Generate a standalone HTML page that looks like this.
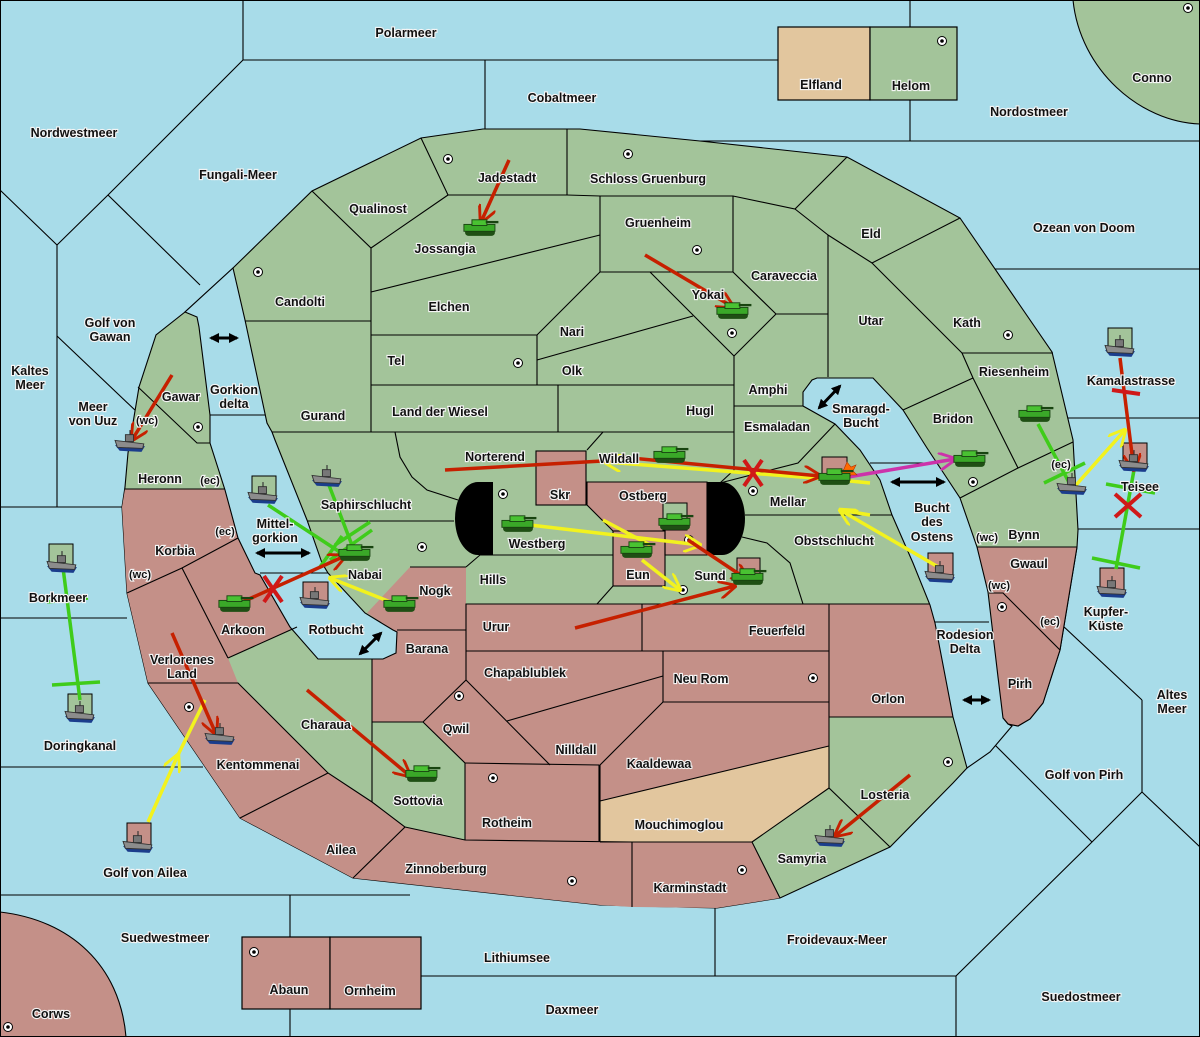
<!DOCTYPE html>
<html><head><meta charset="utf-8"><style>
html,body{margin:0;padding:0;background:#a8dce9}
svg{display:block}
text{font-family:"Liberation Sans",sans-serif;font-weight:bold;font-size:12.5px;fill:#111;stroke:#f4f4f4;stroke-width:2.2px;paint-order:stroke;text-anchor:middle}
.l{fill:none;stroke:#000;stroke-width:1.1}
</style></head><body>
<svg width="1200" height="1037" viewBox="0 0 1200 1037" xmlns="http://www.w3.org/2000/svg">
<defs>
<marker id="mr" viewBox="0 0 10 10" refX="9" refY="5" markerWidth="18" markerHeight="18" markerUnits="userSpaceOnUse" orient="auto"><path d="M0,0 L10,5 L0,10" fill="none" stroke="#c62000" stroke-width="1.6"/></marker>
<marker id="my" viewBox="0 0 10 10" refX="9" refY="5" markerWidth="18" markerHeight="18" markerUnits="userSpaceOnUse" orient="auto"><path d="M0,0 L10,5 L0,10" fill="none" stroke="#f2f21e" stroke-width="1.6"/></marker>
<marker id="mm" viewBox="0 0 10 10" refX="9" refY="5" markerWidth="18" markerHeight="18" markerUnits="userSpaceOnUse" orient="auto"><path d="M0,0 L10,5 L0,10" fill="none" stroke="#cc33aa" stroke-width="1.6"/></marker>
<marker id="mb" viewBox="0 0 10 10" refX="8" refY="5" markerWidth="10" markerHeight="10" markerUnits="userSpaceOnUse" orient="auto-start-reverse"><path d="M0,0 L10,5 L0,10 Z" fill="#000"/></marker>
<g id="tank0"><rect x="-13" y="0" width="26" height="6" rx="3" fill="#1f4f14"/><rect x="-14" y="-4" width="27" height="6" fill="#3aa828" stroke="#184410" stroke-width="0.8"/><rect x="-7" y="-8" width="13" height="5" fill="#49c232" stroke="#184410" stroke-width="0.8"/><rect x="5" y="-7" width="11" height="2" fill="#184410"/></g>
<g id="tank"><use href="#tank0" transform="scale(1.15)"/></g>
<g id="ship0"><path d="M-13,0 L13,1 L10,6 L-9,5 Z" fill="#1b3d8c"/><path d="M-13,-4 L12,-1 L11,3 L-11,2Z" fill="#8c8c8c" stroke="#333" stroke-width="0.8"/><rect x="-4" y="-9" width="7" height="6" fill="#777" stroke="#333" stroke-width="0.8"/><line x1="0" y1="-13" x2="0" y2="-9" stroke="#333"/></g>
<g id="ship"><use href="#ship0" transform="scale(1.15)"/></g>
<g id="sc"><circle r="4.5" fill="#fff" stroke="#000" stroke-width="1"/><circle r="1.8" fill="#000"/></g>
</defs>

<g class="l">
<polyline points="243,0 243,60 778,60"/><polyline points="485,60 485,129"/>
<polyline points="910,0 910,27"/><polyline points="910,100 910,141"/><polyline points="700,141 1200,141"/>
<polyline points="995,269 1200,269"/><polyline points="1068,418 1200,418"/><polyline points="1078,529 1200,529"/>
<polyline points="1142,700 1142,792"/><polyline points="1062,625 1142,700"/><polyline points="1142,792 1092,842 956,976 956,1037"/><polyline points="1142,792 1200,847"/><polyline points="993,743 1092,842"/>
<polyline points="400,976 956,976"/><polyline points="715,906 715,976"/><polyline points="290,895 290,1037"/><polyline points="0,895 410,895"/>
<polyline points="0,190 57,245 108,195 243,60"/><polyline points="108,195 200,285"/><polyline points="57,245 57,507"/><polyline points="57,336 137,412"/>
<polyline points="0,507 122,507"/><polyline points="0,618 127,618"/><polyline points="0,767 203,767"/>
</g>
<path d="M1073,0 C1080,70 1140,122 1200,124 L1200,0 Z" fill="#a3c49a" stroke="#000" stroke-width="1.1"/>
<path d="M0,912 C70,920 120,965 126,1037 L0,1037 Z" fill="#c49088" stroke="#000" stroke-width="1.1"/>
<rect x="778" y="27" width="92" height="73" fill="#e2c69e" stroke="#000" stroke-width="1.2"/>
<rect x="870" y="27" width="87" height="73" fill="#a3c49a" stroke="#000" stroke-width="1.2"/>
<rect x="242" y="937" width="88" height="72" fill="#c49088" stroke="#000" stroke-width="1.2"/>
<rect x="330" y="937" width="91" height="72" fill="#c49088" stroke="#000" stroke-width="1.2"/>

<polygon points="185,312 233,268 312,191 421,138 483,129 580,129 700,141 847,157 960,218 1052,352 1073,440 1078,530 1077,547 1060,650 1043,703 1030,719 1018,726 1008,724 1003,718 967,768 953,783 890,847 780,898 717,908 600,905 353,878 240,818 148,683 127,593 122,507 125,487 128,453 139,387 156,335" fill="#a3c49a" stroke="#000" stroke-width="1.1"/>
<g fill="#c49088" stroke="none">
<polygon points="125,489 225,489 238,538 255,573 260,575 290,627 297,627 228,658 238,683 328,773 240,818 148,683 127,593 122,507"/>
<polygon points="240,818 328,773 372,802 405,827 353,878"/>
<polygon points="353,878 405,827 465,840 599,841 632,842 632,907 600,905"/>
<polygon points="632,842 752,842 780,898 717,908 632,907"/>
<polygon points="410,567 466,567 466,604 930,604 935,623 953,717 829,717 829,746 600,801 599,841 465,840 465,763 423,722 372,722 372,659 383,659 396,653 397,632 393,630 367,613"/>
<polygon points="977,547 1077,547 1060,650 1043,703 1030,719 1018,726 1008,724 1003,718 998,677 989,593"/>
<polygon points="536,451 586,451 586,505 536,505"/>
<polygon points="587,482 707,482 707,555 665,555 665,531 613,531 587,505"/>
<polygon points="613,531 665,531 665,586 613,586"/>
</g>
<polyline points="1077,547 1060,650 1043,703 1030,719 1018,726 1008,724 1003,718" fill="none" stroke="#000" stroke-width="1.1"/>
<polygon points="600,801 829,746 829,788 752,842 600,842" fill="#e2c69e"/>
<rect x="536" y="451" width="50" height="54" fill="none" stroke="#000" stroke-width="1.1"/>
<polygon points="587,482 707,482 707,555 665,555 665,531 613,531 587,505" fill="none" stroke="#000" stroke-width="1.1"/>
<rect x="613" y="531" width="52" height="55" fill="none" stroke="#000" stroke-width="1.1"/>
<rect x="663" y="503" width="24" height="27" fill="#a3c49a" stroke="#000" stroke-width="1"/>
<rect x="737" y="558" width="23" height="20" fill="#c49088" stroke="#000" stroke-width="1"/>
<rect x="822" y="457" width="25" height="20" fill="#c49088" stroke="#000" stroke-width="1"/>

<polygon points="817,378 873,378 903,410 927,448 960,498 977,547 988,592 998,677 1003,718 1008,724 1012,726 990,752 967,768 953,717 935,623 930,605 913,563 892,515 880,480 860,450 835,424 803,406 803,392 812,380" fill="#a8dce9" stroke="#000" stroke-width="1.1"/>
<polygon points="185,312 197,317 199,327 210,415 210,443 225,490 238,538 255,573 260,575 290,627 318,659 383,659 396,653 397,632 393,630 365,613 328,573 322,563 307,520 275,440 272,432 267,423 245,320 233,268" fill="#a8dce9" stroke="#000" stroke-width="1.1"/>
<g class="l">
<polyline points="210,415 265,415"/><polyline points="260,573 328,573"/><polyline points="870,463 930,463"/><polyline points="935,622 989,622"/>
</g>

<g class="l">
<polyline points="421,138 448,195 567,195 600,196 733,196 795,209 847,157"/>
<polyline points="567,129 567,195"/>
<polyline points="312,191 371,248 448,195"/>
<polyline points="371,248 371,432"/>
<polyline points="371,292 600,235"/>
<polyline points="245,321 371,321"/>
<polyline points="371,335 537,335 600,272"/>
<polyline points="537,360 693,316"/>
<polyline points="537,335 537,385"/>
<polyline points="371,385 734,385"/>
<polyline points="558,385 558,432"/>
<polyline points="272,432 734,432"/>
<polyline points="395,432 400,457 412,477 427,490 458,500"/>
<polyline points="600,196 600,272 733,272"/>
<polyline points="650,272 734,356 776,314 733,272 733,196"/>
<polyline points="795,209 828,235 828,377"/><polyline points="776,314 828,314"/>
<polyline points="734,356 734,470 720,483"/><polyline points="734,406 803,406"/>
<polyline points="828,235 872,263 960,218"/>
<polyline points="872,263 962,353 1053,353"/>
<polyline points="962,353 973,378 1018,468 1073,442"/><polyline points="973,378 903,410"/>
<polyline points="960,498 1018,468"/>
<polyline points="603,432 587,450"/>
<polyline points="835,424 798,463 720,483"/>
<polyline points="745,515 892,515"/>
<polyline points="742,537 767,543 790,563 803,604"/>
<polyline points="307,521 454,521"/>
<polyline points="493,555 613,555"/><polyline points="466,567 480,555 493,555"/>
<polyline points="410,567 466,567"/>
<polyline points="597,604 613,586"/>
<polyline points="138,387 197,443 210,443"/><polyline points="125,489 225,489"/>
<polyline points="127,593 182,568 238,538"/><polyline points="182,568 228,658"/>
<polyline points="228,658 297,627"/><polyline points="148,683 238,683 328,773 372,802 405,827 353,878"/><polyline points="240,818 328,773"/>
<polyline points="372,659 372,802"/><polyline points="372,722 423,722 466,680 466,604 930,604"/>
<polyline points="423,722 465,763 465,840"/><polyline points="465,763 599,765 599,841"/><polyline points="405,827 465,840 632,842 632,907"/>
<polyline points="466,630 397,630"/><polyline points="466,651 829,651"/><polyline points="642,604 642,651"/>
<polyline points="663,651 663,702 829,702"/><polyline points="829,604 829,788"/><polyline points="829,717 953,717"/>
<polyline points="507,721 663,676"/><polyline points="466,680 550,765"/><polyline points="600,765 663,702"/>
<polyline points="600,765 600,842"/><polyline points="600,801 829,746"/><polyline points="600,842 752,842 780,898"/><polyline points="752,842 829,788 890,847"/>
<polyline points="989,593 1003,593 1060,650"/><polyline points="977,547 1077,547"/>
</g>
<path d="M493,482 H478 A23,36.5 0 0 0 478,555 H493 Z" fill="#000"/>
<path d="M707,482 H722 A23,36.5 0 0 1 722,555 H707 Z" fill="#000"/>

<g stroke="#000" stroke-width="1">
<rect x="252" y="476" width="24" height="22" fill="#a3c49a"/>
<rect x="303" y="582" width="25" height="22" fill="#c49088"/>
<rect x="928" y="553" width="25" height="22" fill="#c49088"/>
<rect x="1108" y="328" width="24" height="22" fill="#a3c49a"/>
<rect x="1123" y="443" width="24" height="22" fill="#c49088"/>
<rect x="1100" y="568" width="24" height="22" fill="#c49088"/>
<rect x="127" y="823" width="24" height="22" fill="#c49088"/>
<rect x="49" y="544" width="24" height="21" fill="#a3c49a"/>
<rect x="68" y="694" width="24" height="21" fill="#a3c49a"/>
</g>

<g>
<use href="#sc" x="448" y="159"/><use href="#sc" x="628" y="154"/><use href="#sc" x="942" y="41"/><use href="#sc" x="1188" y="8"/>
<use href="#sc" x="258" y="272"/><use href="#sc" x="697" y="250"/><use href="#sc" x="732" y="333"/><use href="#sc" x="518" y="363"/>
<use href="#sc" x="1008" y="335"/><use href="#sc" x="198" y="427"/><use href="#sc" x="503" y="494"/><use href="#sc" x="753" y="491"/>
<use href="#sc" x="689" y="540"/><use href="#sc" x="422" y="547"/><use href="#sc" x="973" y="482"/><use href="#sc" x="1002" y="607"/>
<use href="#sc" x="683" y="590"/><use href="#sc" x="813" y="678"/><use href="#sc" x="459" y="696"/><use href="#sc" x="189" y="707"/>
<use href="#sc" x="493" y="778"/><use href="#sc" x="948" y="762"/><use href="#sc" x="742" y="870"/><use href="#sc" x="572" y="881"/>
<use href="#sc" x="254" y="952"/><use href="#sc" x="8" y="1027"/>
</g>

<g stroke="#000" stroke-width="3" marker-start="url(#mb)" marker-end="url(#mb)">
<line x1="211" y1="338" x2="237" y2="338"/><line x1="257" y1="553" x2="309" y2="553"/>
<line x1="360" y1="654" x2="381" y2="633"/><line x1="819" y1="408" x2="840" y2="386"/>
<line x1="892" y1="482" x2="944" y2="482"/><line x1="964" y1="700" x2="989" y2="700"/>
</g>

<g fill="none" stroke-width="3.5" stroke-linecap="butt">
<g stroke="#3fcc1a">
<line x1="327" y1="480" x2="355" y2="553"/><line x1="268" y1="505" x2="352" y2="560"/>
<line x1="335" y1="545" x2="370" y2="522"/><line x1="320" y1="567" x2="342" y2="536"/><line x1="330" y1="560" x2="372" y2="530"/>
<line x1="62" y1="560" x2="80" y2="700"/><line x1="47" y1="602" x2="88" y2="598"/><line x1="52" y1="685" x2="100" y2="682"/>
<line x1="1038" y1="424" x2="1072" y2="488"/><line x1="1044" y1="483" x2="1085" y2="463"/>
<line x1="1134" y1="470" x2="1116" y2="569"/><line x1="1106" y1="484" x2="1155" y2="493"/><line x1="1092" y1="558" x2="1140" y2="568"/>
</g>
<g stroke="#f2f21e" marker-end="url(#my)">
<line x1="530" y1="525" x2="700" y2="545"/>
<line x1="642" y1="560" x2="680" y2="590"/>
<line x1="840" y1="480" x2="605" y2="462"/>
<line x1="940" y1="568" x2="840" y2="510"/>
<line x1="398" y1="605" x2="330" y2="578"/>
<line x1="148" y1="822" x2="178" y2="755"/>
<line x1="1076" y1="485" x2="1125" y2="430"/>
</g>
<line stroke="#f2f21e" x1="178" y1="755" x2="205" y2="700"/>
<line stroke="#f2f21e" x1="603" y1="520" x2="650" y2="545"/>
<line stroke="#f2f21e" x1="840" y1="480" x2="870" y2="483"/>
<line stroke="#f2f21e" x1="840" y1="510" x2="870" y2="515"/>
<g stroke="#c62000" marker-end="url(#mr)">
<line x1="509" y1="160" x2="481" y2="222"/>
<line x1="645" y1="255" x2="733" y2="307"/>
<line x1="172" y1="375" x2="132" y2="440"/>
<line x1="620" y1="457" x2="820" y2="476"/>
<line x1="240" y1="603" x2="345" y2="556"/>
<line x1="172" y1="633" x2="216" y2="734"/>
<line x1="307" y1="690" x2="410" y2="776"/>
<line x1="575" y1="628" x2="735" y2="586"/>
<line x1="688" y1="540" x2="748" y2="580"/>
<line x1="910" y1="775" x2="835" y2="836"/>
<line x1="1120" y1="358" x2="1134" y2="470"/>
</g>
<line stroke="#c62000" x1="445" y1="470" x2="620" y2="460"/>
<line stroke="#cc33aa" marker-end="url(#mm)" x1="848" y1="477" x2="955" y2="459"/>
<g stroke="#d01818" stroke-width="4">
<line x1="744" y1="460" x2="762" y2="486"/><line x1="762" y1="460" x2="744" y2="486"/>
<line x1="264" y1="576" x2="282" y2="602"/><line x1="282" y1="576" x2="264" y2="602"/>
<line x1="1115" y1="494" x2="1141" y2="517"/><line x1="1141" y1="494" x2="1115" y2="517"/>
<line x1="1112" y1="390" x2="1140" y2="394"/>
</g>
</g>
<polygon points="847,462 851,467 856,465 853,471 857,475 851,475 848,480 845,474 840,474 844,469" fill="#ff6a00" stroke="#b03000" stroke-width="0.6"/>

<g>
<use href="#tank" x="480" y="229"/><use href="#tank" x="733" y="312"/><use href="#tank" x="1035" y="415"/>
<use href="#tank" x="670" y="456"/><use href="#tank" x="835" y="478"/><use href="#tank" x="970" y="460"/>
<use href="#tank" x="518" y="525"/><use href="#tank" x="675" y="523"/><use href="#tank" x="637" y="551"/>
<use href="#tank" x="355" y="554"/><use href="#tank" x="235" y="605"/><use href="#tank" x="400" y="605"/>
<use href="#tank" x="748" y="578"/><use href="#tank" x="422" y="775"/>
<use href="#ship" x="130" y="445"/><use href="#ship" x="327" y="480"/><use href="#ship" x="263" y="497"/>
<use href="#ship" x="315" y="602"/><use href="#ship" x="220" y="738"/><use href="#ship" x="1072" y="488"/>
<use href="#ship" x="1134" y="465"/><use href="#ship" x="940" y="576"/><use href="#ship" x="1120" y="350"/>
<use href="#ship" x="1112" y="591"/><use href="#ship" x="138" y="846"/><use href="#ship" x="830" y="840"/>
<use href="#ship" x="62" y="566"/><use href="#ship" x="80" y="716"/>
</g>

<g>
<text x="406" y="37">Polarmeer</text><text x="562" y="102">Cobaltmeer</text><text x="821" y="89">Elfland</text><text x="911" y="90">Helom</text>
<text x="1152" y="82">Conno</text><text x="1029" y="116">Nordostmeer</text><text x="74" y="137">Nordwestmeer</text><text x="238" y="179">Fungali-Meer</text>
<text x="507" y="182">Jadestadt</text><text x="648" y="183">Schloss Gruenburg</text><text x="378" y="213">Qualinost</text><text x="658" y="227">Gruenheim</text>
<text x="871" y="238">Eld</text><text x="1084" y="232">Ozean von Doom</text><text x="445" y="253">Jossangia</text><text x="784" y="280">Caraveccia</text>
<text x="300" y="306">Candolti</text><text x="449" y="311">Elchen</text><text x="708" y="299">Yokai</text><text x="871" y="325">Utar</text>
<text x="967" y="327">Kath</text><text x="572" y="336">Nari</text><text x="110" y="327">Golf von</text><text x="110" y="341">Gawan</text>
<text x="396" y="365">Tel</text><text x="572" y="375">Olk</text><text x="30" y="375">Kaltes</text><text x="30" y="389">Meer</text>
<text x="1014" y="376">Riesenheim</text><text x="1131" y="385">Kamalastrasse</text><text x="768" y="394">Amphi</text>
<text x="234" y="394">Gorkion</text><text x="234" y="408">delta</text><text x="181" y="401">Gawar</text>
<text x="93" y="411">Meer</text><text x="93" y="425">von Uuz</text><text x="147" y="424" style="font-size:11px">(wc)</text>
<text x="861" y="413">Smaragd-</text><text x="861" y="427">Bucht</text><text x="323" y="420">Gurand</text><text x="440" y="416">Land der Wiesel</text>
<text x="700" y="415">Hugl</text><text x="953" y="423">Bridon</text><text x="777" y="431">Esmaladan</text>
<text x="495" y="461">Norterend</text><text x="619" y="463">Wildall</text><text x="160" y="483">Heronn</text><text x="210" y="484" style="font-size:11px">(ec)</text>
<text x="560" y="499">Skr</text><text x="643" y="500">Ostberg</text><text x="1140" y="491">Teisee</text><text x="788" y="506">Mellar</text>
<text x="1061" y="468" style="font-size:11px">(ec)</text><text x="366" y="509">Saphirschlucht</text>
<text x="932" y="512">Bucht</text><text x="932" y="526">des</text><text x="932" y="541">Ostens</text>
<text x="275" y="528">Mittel-</text><text x="275" y="542">gorkion</text><text x="225" y="535" style="font-size:11px">(ec)</text>
<text x="1024" y="539">Bynn</text><text x="987" y="541" style="font-size:11px">(wc)</text><text x="537" y="548">Westberg</text><text x="834" y="545">Obstschlucht</text>
<text x="175" y="555">Korbia</text><text x="140" y="578" style="font-size:11px">(wc)</text><text x="365" y="579">Nabai</text><text x="638" y="579">Eun</text>
<text x="710" y="580">Sund</text><text x="1029" y="568">Gwaul</text><text x="493" y="584">Hills</text><text x="999" y="589" style="font-size:11px">(wc)</text>
<text x="435" y="595">Nogk</text><text x="58" y="602">Borkmeer</text><text x="1106" y="616">Kupfer-</text><text x="1106" y="630">Küste</text>
<text x="496" y="631">Urur</text><text x="1050" y="625" style="font-size:11px">(ec)</text><text x="243" y="634">Arkoon</text><text x="336" y="634">Rotbucht</text>
<text x="777" y="635">Feuerfeld</text><text x="965" y="639">Rodesion</text><text x="965" y="653">Delta</text><text x="427" y="653">Barana</text>
<text x="182" y="664">Verlorenes</text><text x="182" y="678">Land</text><text x="525" y="677">Chapablublek</text><text x="701" y="683">Neu Rom</text>
<text x="1020" y="688">Pirh</text><text x="888" y="703">Orlon</text><text x="1172" y="699">Altes</text><text x="1172" y="713">Meer</text>
<text x="326" y="729">Charaua</text><text x="456" y="733">Qwil</text><text x="80" y="750">Doringkanal</text><text x="576" y="754">Nilldall</text>
<text x="659" y="768">Kaaldewaa</text><text x="258" y="769">Kentommenai</text><text x="1084" y="779">Golf von Pirh</text><text x="885" y="799">Losteria</text>
<text x="418" y="805">Sottovia</text><text x="507" y="827">Rotheim</text><text x="679" y="829">Mouchimoglou</text><text x="341" y="854">Ailea</text>
<text x="802" y="863">Samyria</text><text x="446" y="873">Zinnoberburg</text><text x="145" y="877">Golf von Ailea</text><text x="690" y="892">Karminstadt</text>
<text x="165" y="942">Suedwestmeer</text><text x="837" y="944">Froidevaux-Meer</text><text x="517" y="962">Lithiumsee</text>
<text x="289" y="994">Abaun</text><text x="370" y="995">Ornheim</text><text x="1081" y="1001">Suedostmeer</text><text x="572" y="1014">Daxmeer</text><text x="51" y="1018">Corws</text>
</g>
<rect x="0.5" y="0.5" width="1199" height="1036" fill="none" stroke="#000" stroke-width="1"/>
</svg>
</body></html>
